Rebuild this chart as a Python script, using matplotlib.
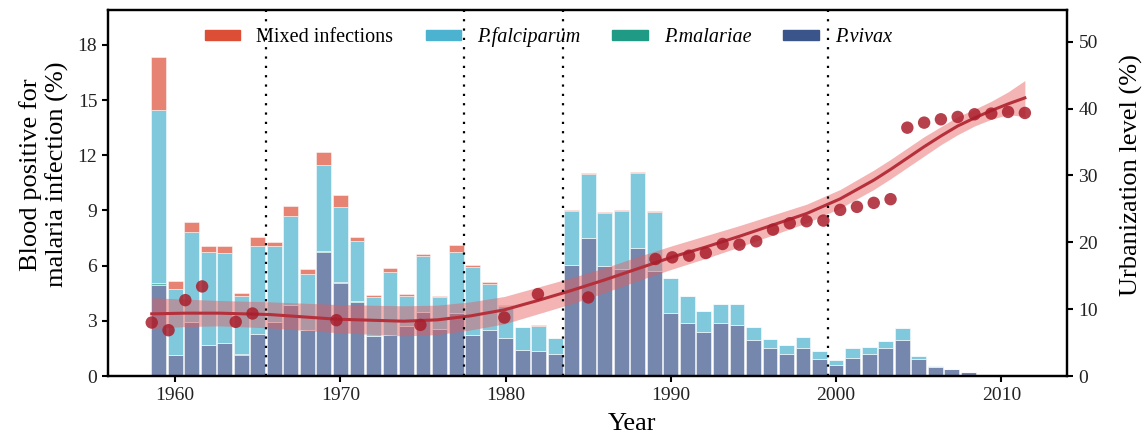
import matplotlib
matplotlib.use("Agg")
import matplotlib.pyplot as plt
from matplotlib.patches import Patch
from matplotlib.transforms import blended_transform_factory
import numpy as np

plt.rcParams['font.family'] = ['Liberation Serif', 'DejaVu Serif']

# ---- bar data (blood positive %, by species) ----
years = list(range(1959, 2009))
vivax = [4.94, 1.14, 2.95, 1.68, 1.81, 1.14, 2.26, 2.95, 3.85, 2.50,
         6.76, 5.04, 4.05, 2.15, 2.25, 2.71, 3.49, 2.53, 3.40, 2.22,
         2.50, 2.06, 1.40, 1.37, 1.18, 6.05, 7.51, 5.96, 5.82, 6.95,
         5.73, 3.45, 2.87, 2.40, 2.87, 2.78, 1.95, 1.53, 1.18, 1.51,
         0.93, 0.58, 1.00, 1.18, 1.53, 1.96, 0.93, 0.51, 0.36, 0.22]
malariae = [0.10, 0, 0, 0, 0, 0.05, 0, 0, 0, 0,
            0.05, 0.05, 0.05, 0, 0, 0, 0, 0, 0, 0,
            0, 0, 0, 0, 0, 0, 0, 0, 0, 0,
            0, 0, 0, 0, 0, 0, 0, 0, 0, 0,
            0, 0, 0, 0, 0, 0, 0, 0, 0, 0]
falciparum = [9.41, 3.59, 4.87, 5.05, 4.86, 3.17, 4.83, 4.10, 4.84, 3.05,
              4.64, 4.09, 3.26, 2.12, 3.39, 1.62, 3.02, 1.74, 3.33, 3.69,
              2.50, 1.75, 1.24, 1.36, 0.86, 2.91, 3.49, 2.88, 3.13, 4.09,
              3.20, 1.88, 1.46, 1.11, 1.06, 1.15, 0.69, 0.47, 0.51, 0.62,
              0.42, 0.30, 0.53, 0.38, 0.38, 0.66, 0.18, 0.04, 0.02, 0.01]
mixed = [2.91, 0.45, 0.54, 0.36, 0.38, 0.15, 0.49, 0.26, 0.58, 0.25,
         0.71, 0.67, 0.19, 0.15, 0.21, 0.14, 0.13, 0.09, 0.42, 0.14,
         0.09, 0.03, 0.03, 0.03, 0.05, 0.08, 0.05, 0.05, 0.05, 0.05,
         0.05, 0.02, 0.03, 0.03, 0.01, 0.01, 0.03, 0.01, 0, 0,
         0, 0, 0, 0, 0, 0, 0, 0, 0, 0]

# ---- urbanization points ----
urb_years = [1959, 1960, 1961, 1962, 1964, 1965, 1970, 1975, 1980, 1982, 1985,
             1989, 1990, 1991, 1992, 1993, 1994, 1995, 1996, 1997, 1998, 1999,
             2000, 2001, 2002, 2003, 2004, 2005, 2006, 2007, 2008, 2009, 2010, 2011]
urb_vals = [8.0, 6.85, 11.35, 13.4, 8.1, 9.35, 8.35, 7.65, 8.75, 12.25, 11.75,
            17.5, 17.75, 18.0, 18.4, 19.75, 19.65, 20.15, 21.9, 22.85, 23.15, 23.25,
            24.85, 25.3, 25.9, 26.45, 37.15, 37.9, 38.4, 38.75, 39.15, 39.25, 39.5, 39.35]

# ---- smoothed trend with confidence band ----
trend_years = [1959, 1961, 1963, 1966, 1970, 1974, 1976, 1978, 1980, 1982, 1984,
               1986, 1988, 1990, 1992, 1994, 1996, 1998, 2000, 2002, 2003, 2004,
               2005, 2006, 2007, 2008, 2009, 2010, 2011]
trend_mid = [9.3, 9.4, 9.4, 9.2, 8.5, 8.2, 8.4, 9.0, 9.9, 11.3, 12.8,
             14.4, 16.1, 17.8, 19.3, 20.9, 22.6, 24.3, 26.5, 29.3, 30.9, 32.6,
             34.3, 35.9, 37.4, 38.6, 39.7, 40.7, 41.6]
trend_lo = [7.1, 7.4, 7.5, 7.2, 6.5, 6.0, 6.2, 6.9, 7.8, 9.3, 10.8,
            12.5, 14.3, 16.0, 17.6, 19.3, 21.1, 22.9, 25.1, 27.9, 29.5, 31.2,
            32.9, 34.6, 36.1, 37.4, 38.4, 39.1, 38.8]
trend_hi = [11.7, 11.5, 11.3, 11.1, 10.7, 10.5, 10.6, 11.1, 11.9, 13.3, 14.7,
            16.2, 17.9, 19.5, 21.0, 22.5, 24.1, 25.7, 27.9, 30.8, 32.4, 34.1,
            35.8, 37.3, 38.8, 39.9, 41.1, 42.5, 44.2]

period_breaks = [1965.5, 1977.5, 1983.5, 1999.5]

c_vivax = '#3A5589'
c_mal = '#1F9A84'
c_falc = '#4BB3CF'
c_mix = '#DD4E37'

fig = plt.figure(figsize=(11.44, 4.34), dpi=100)
ax = fig.add_axes([0.0947, 0.1336, 0.8383, 0.8434])

yv = np.array(vivax)
ym = np.array(malariae)
yf = np.array(falciparum)
yx = np.array(mixed)
bw = 0.9
kw = dict(width=bw, alpha=0.7, edgecolor='white', linewidth=0.5)
ax.bar(years, yv, color=c_vivax, **kw)
ax.bar(years, ym, bottom=yv, color=c_mal, **kw)
ax.bar(years, yf, bottom=yv + ym, color=c_falc, **kw)
ax.bar(years, yx, bottom=yv + ym + yf, color=c_mix, **kw)

ax.set_xlim(1955.95, 2014.0)
ax.set_ylim(0, 19.9)
ax.set_xticks([1960, 1970, 1980, 1990, 2000, 2010])
ax.set_yticks([0, 3, 6, 9, 12, 15, 18])

ax2 = ax.twinx()
ax2.set_ylim(0, 54.75)
ax2.set_yticks([0, 10, 20, 30, 40, 50])

ax3 = ax2.twiny()
ax3.set_xlim(1956.415, 2013.53)
ax3.xaxis.set_visible(False)
for s in ax3.spines.values():
    s.set_visible(False)

ax3.fill_between(trend_years, trend_lo, trend_hi, color='#E8595A', alpha=0.45,
                 linewidth=0, zorder=2)
ax3.plot(trend_years, trend_mid, color='#B5303A', lw=2.2, zorder=3)
ax3.scatter(urb_years, urb_vals, s=80, color='#A91E2C', alpha=0.85,
            edgecolors='none', zorder=4)

tr = blended_transform_factory(ax.transData, ax3.transAxes)
for xb in period_breaks:
    ax3.plot([xb, xb], [0, 1], transform=tr, color='black', ls=(0, (1, 3.2)),
             lw=1.6, zorder=5)

for a in (ax, ax2):
    for s in a.spines.values():
        s.set_linewidth(1.6)
    a.tick_params(axis='both', labelsize=14, width=1.5, length=4.5,
                  direction='out', colors='black', labelcolor='#222222')

ax.set_xlabel('Year', fontsize=19)
ax.xaxis.set_label_coords(0.546, -0.1)
ax.set_ylabel('Blood positive for\nmalaria infection (%)', fontsize=19)
ax.yaxis.set_label_coords(-0.041, 0.55)
ax2.set_ylabel('Urbanization level (%)', fontsize=19)
ax2.yaxis.set_label_coords(1.055, 0.55)

handles = [Patch(color=c_mix), Patch(color=c_falc), Patch(color=c_mal),
           Patch(color=c_vivax)]
labels = ['Mixed infections', 'P.falciparum', 'P.malariae', 'P.vivax']
leg = ax3.legend(handles, labels, loc='center left', bbox_to_anchor=(0.1008, 0.926),
                 ncol=4, frameon=False, fontsize=14.5, borderpad=0, borderaxespad=0,
                 handlelength=1.75, handleheight=0.4, handletextpad=0.8,
                 columnspacing=1.6)
for t in leg.get_texts()[1:]:
    t.set_fontstyle('italic')
leg.set_zorder(10)

fig.savefig('out.png', dpi=100)
